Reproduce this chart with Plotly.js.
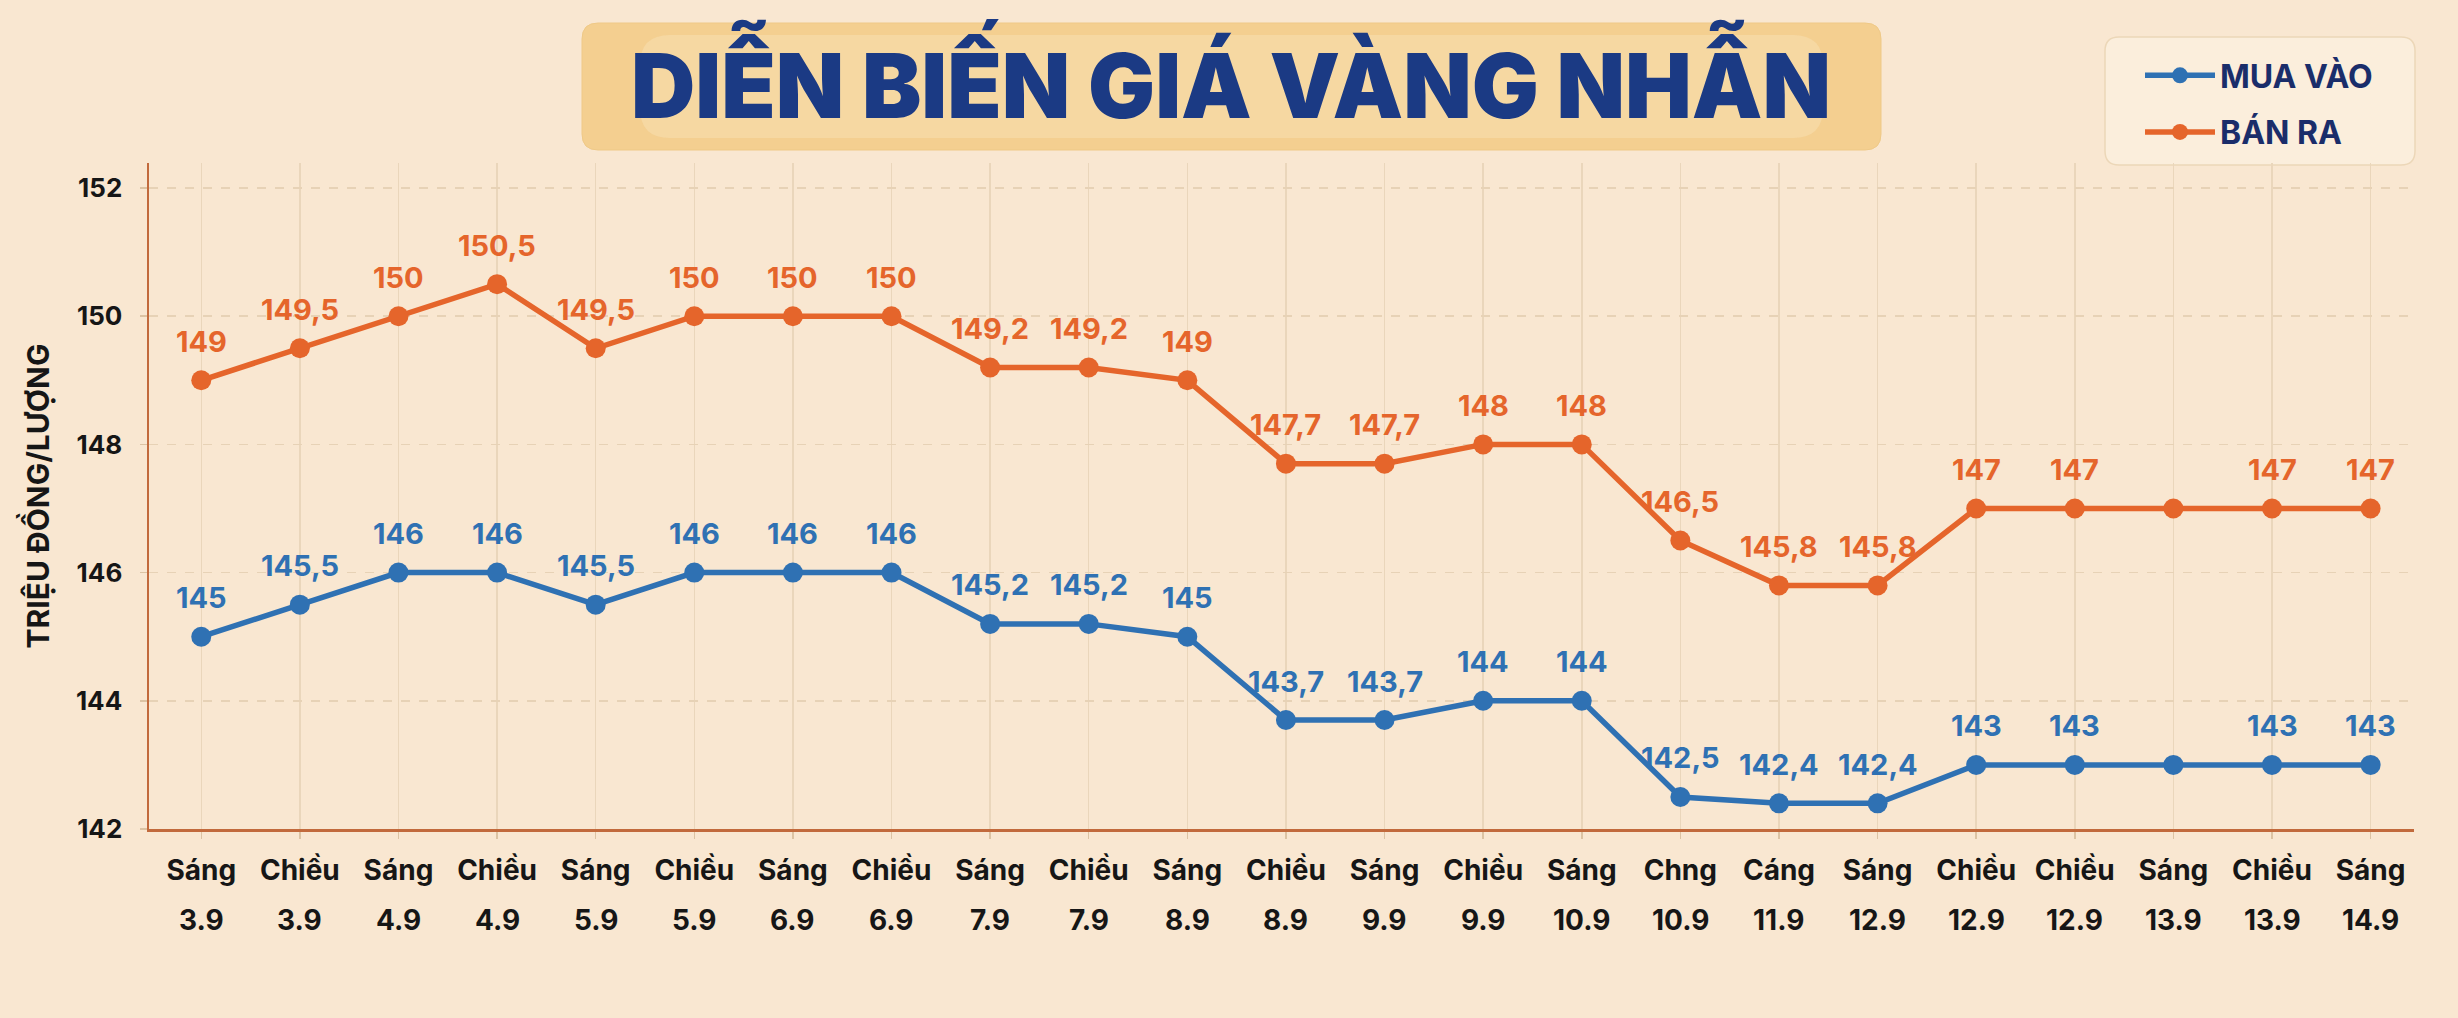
<!DOCTYPE html>
<html>
<head>
<meta charset="utf-8">
<script src="https://cdn.plot.ly/plotly-3.0.1.min.js"></script>
<style>
  html, body { margin: 0; padding: 0; background: #f9e8d3; }
  #chart { width: 2458px; height: 1018px; }
</style>
</head>
<body>
<div id="chart"></div>
<script>
// data
var sessions = ['Sáng', 'Chiều', 'Sáng', 'Chiều', 'Sáng', 'Chiều', 'Sáng', 'Chiều', 'Sáng', 'Chiều', 'Sáng', 'Chiều',
                'Sáng', 'Chiều', 'Sáng', 'Chng', 'Cáng', 'Sáng', 'Chiều', 'Chiều', 'Sáng', 'Chiều', 'Sáng'];
var dates = ['3.9', '3.9', '4.9', '4.9', '5.9', '5.9', '6.9', '6.9', '7.9', '7.9', '8.9', '8.9',
             '9.9', '9.9', '10.9', '10.9', '11.9', '12.9', '12.9', '12.9', '13.9', '13.9', '14.9'];
var muaVao = [145, 145.5, 146, 146, 145.5, 146, 146, 146, 145.2, 145.2, 145, 143.7,
              143.7, 144, 144, 142.5, 142.4, 142.4, 143, 143, 143, 143, 143];
var banRa = [149, 149.5, 150, 150.5, 149.5, 150, 150, 150, 149.2, 149.2, 149, 147.7,
             147.7, 148, 148, 146.5, 145.8, 145.8, 147, 147, 147, 147, 147];
var noLabel = [20];   // point without value label in the picture
var yTicks = [142, 144, 146, 148, 150, 152];

var BLUE = '#2f71b3';
var ORANGE = '#e5652b';
var NAVY = '#1b3a84';
var FONT = 'Inter, Liberation Sans, sans-serif';

var idx = sessions.map(function (s, i) { return i; });

// plot area in pixels
var W = 2458, H = 1018;
var mL = 149, mR = 44, mT = 163, mB = 189;
var pw = W - mL - mR, ph = H - mT - mB;
function px(x) { return (x - mL) / pw; }
function py(y) { return (H - mB - y) / ph; }

// rounded box as a path in paper coords
function roundBox(x0, y0, x1, y1, r) {
  return 'M' + px(x0 + r) + ',' + py(y0) +
    ' L' + px(x1 - r) + ',' + py(y0) +
    ' Q' + px(x1) + ',' + py(y0) + ' ' + px(x1) + ',' + py(y0 + r) +
    ' L' + px(x1) + ',' + py(y1 - r) +
    ' Q' + px(x1) + ',' + py(y1) + ' ' + px(x1 - r) + ',' + py(y1) +
    ' L' + px(x0 + r) + ',' + py(y1) +
    ' Q' + px(x0) + ',' + py(y1) + ' ' + px(x0) + ',' + py(y1 - r) +
    ' L' + px(x0) + ',' + py(y0 + r) +
    ' Q' + px(x0) + ',' + py(y0) + ' ' + px(x0 + r) + ',' + py(y0) + ' Z';
}

function fmt(v) { return String(v).replace('.', ','); }

function labels(vals, color) {
  var out = [];
  vals.forEach(function (v, i) {
    if (noLabel.indexOf(i) >= 0) return;
    out.push({
      x: i, y: v, xref: 'x', yref: 'y',
      text: fmt(v), showarrow: false,
      yanchor: 'middle', yshift: 39,
      font: { family: FONT, size: 29, color: color, weight: 700 }
    });
  });
  return out;
}

// second line of the x labels (dates)
var dateLabels = dates.map(function (d, i) {
  return {
    x: i, y: 0, xref: 'x', yref: 'paper',
    text: d, showarrow: false,
    yanchor: 'middle', yshift: -91,
    font: { family: FONT, size: 28, color: '#161616', weight: 700 }
  };
});

var traceBuy = {
  x: idx, y: muaVao, name: 'MUA VÀO', type: 'scatter', mode: 'lines+markers',
  legendgroup: 'a',
  line: { color: BLUE, width: 5.5 },
  marker: { color: BLUE, size: 20 },
  hoverinfo: 'skip'
};
var traceSell = {
  x: idx, y: banRa, name: 'BÁN RA', type: 'scatter', mode: 'lines+markers',
  legendgroup: 'b',
  line: { color: ORANGE, width: 5.5 },
  marker: { color: ORANGE, size: 20 },
  hoverinfo: 'skip'
};

var layout = {
  width: W, height: H,
  margin: { l: mL, r: mR, t: mT, b: mB, pad: 0 },
  paper_bgcolor: '#f9e7d1',
  plot_bgcolor: '#f9e7d1',
  showlegend: true,
  title: {
    text: 'DIỄN BIẾN GIÁ VÀNG NHẪN',
    xref: 'container', yref: 'container',
    x: 1231 / W, y: 1 - 87 / H, xanchor: 'center', yanchor: 'middle',
    font: { family: FONT, size: 89, color: NAVY, weight: 900 }
  },
  legend: {
    x: px(2140), y: py(48), xanchor: 'left', yanchor: 'top',
    bgcolor: 'rgba(0,0,0,0)', borderwidth: 0,
    traceorder: 'grouped', tracegroupgap: 12,
    itemwidth: 70,
    font: { family: FONT, size: 32, color: '#1a2d6a', weight: 700 }
  },
  xaxis: {
    range: [-0.53, 22.44],
    tickmode: 'array', tickvals: idx, ticktext: sessions,
    showgrid: true, gridcolor: '#ead6bb', gridwidth: 1.5,
    showline: true, linecolor: '#c26a3c', linewidth: 2.5,
    ticks: 'outside', ticklen: 7, tickcolor: '#dcc3a3', tickwidth: 1.5,
    ticklabelstandoff: 8,
    tickfont: { family: FONT, size: 28, color: '#161616', weight: 700 },
    zeroline: false, fixedrange: true
  },
  yaxis: {
    range: [142, 152.39],
    tickmode: 'array', tickvals: yTicks, ticktext: yTicks.map(String),
    showgrid: true, gridcolor: '#e7d2b6', gridwidth: 1.5, griddash: 'dash',
    showline: true, linecolor: '#c26a3c', linewidth: 2.5,
    ticks: 'outside', ticklen: 7, tickcolor: '#dcc3a3', tickwidth: 1.5,
    ticklabelstandoff: 12,
    tickfont: { family: FONT, size: 26, color: '#161616', weight: 700 },
    title: {
      text: 'TRIỆU ĐỒNG/LƯỢNG', standoff: 18,
      font: { family: FONT, size: 30, color: '#161616', weight: 700 }
    },
    zeroline: false, fixedrange: true
  },
  shapes: [
    {
      type: 'path', xref: 'paper', yref: 'paper', layer: 'below',
      path: roundBox(582, 23, 1881, 150, 16),
      fillcolor: '#f4cf90', line: { color: '#efc987', width: 1 }
    },
    {
      // lighter centre of the title box
      type: 'path', xref: 'paper', yref: 'paper', layer: 'below',
      path: roundBox(640, 35, 1823, 138, 30),
      fillcolor: '#f7dba9', opacity: 0.7, line: { width: 0 }
    },
    {
      type: 'path', xref: 'paper', yref: 'paper', layer: 'below',
      path: roundBox(2105, 37, 2415, 165, 14),
      fillcolor: '#fbeedc', line: { color: '#ecd7b8', width: 1.5 }
    }
  ],
  annotations: labels(banRa, ORANGE).concat(labels(muaVao, BLUE)).concat(dateLabels)
};

Plotly.newPlot('chart', [traceBuy, traceSell], layout, { staticPlot: true });
</script>
</body>
</html>
